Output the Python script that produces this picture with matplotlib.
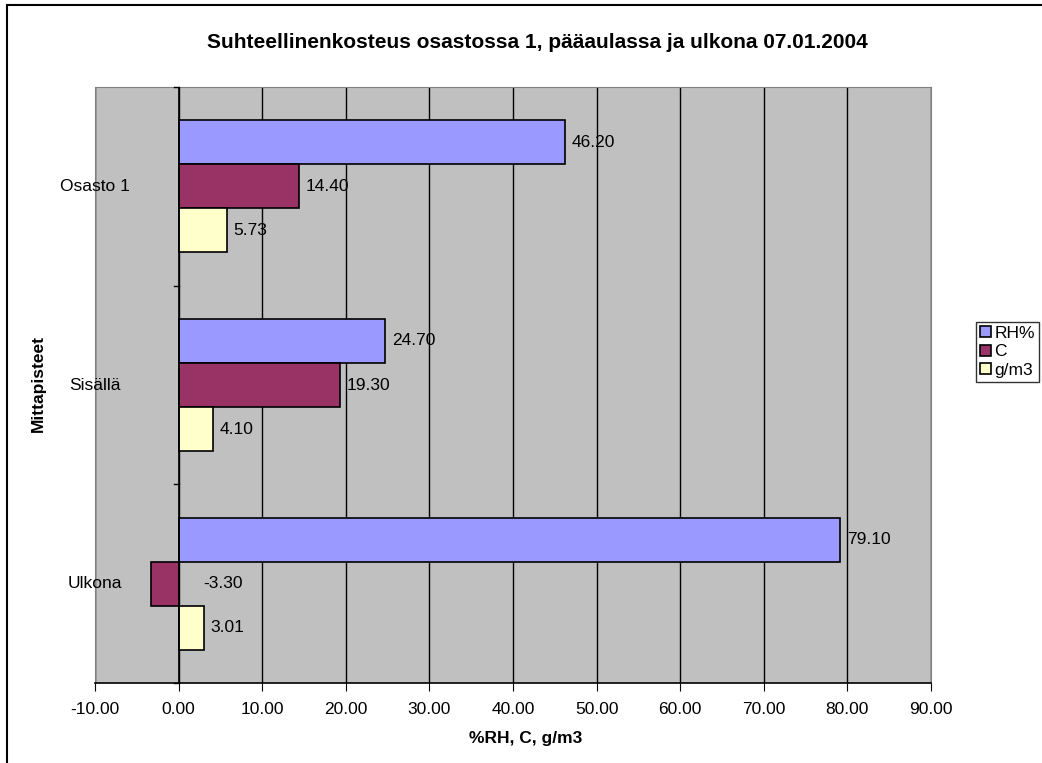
import numpy as np
import matplotlib
matplotlib.use('Agg')
import matplotlib.pyplot as plt
from matplotlib.patches import Rectangle

plt.rcParams['font.family'] = ['Liberation Sans', 'DejaVu Sans']

# data
categories = ['Osasto 1', 'Sisällä', 'Ulkona']
series_names = ['RH%', 'C', 'g/m3']
rh = [46.20, 24.70, 79.10]
temp = [14.40, 19.30, -3.30]
gm3 = [5.73, 4.10, 3.01]
xticks = np.arange(-10, 91, 10)

colors = ['#9999FF', '#993366', '#FFFFCC']
fs = 12.5

fig = plt.figure(figsize=(10.42, 7.63), dpi=100)
W, H = 1042, 763
ax = fig.add_axes([95 / W, 1 - 683 / H, (931 - 95) / W, (683 - 87) / H])
ax.set_facecolor('#C0C0C0')

# outer chart border (only left/top fall inside the picture)
fig.patches.append(Rectangle((7 / W, -0.1), 1.2, 1 - 5 / H + 0.1, transform=fig.transFigure,
                             fill=False, edgecolor='black', linewidth=1.5))

y = np.arange(len(categories))
bh = 0.2215
for i, (vals, c) in enumerate(zip([rh, temp, gm3], colors)):
    pos = y + (i - 1) * bh
    ax.barh(pos, vals, height=bh, color=c, edgecolor='black', linewidth=1.2,
            label=series_names[i], zorder=3)
    for p, v in zip(pos, vals):
        if v >= 0:
            ax.annotate(f'{v:.2f}', (v, p), xytext=(7, 0), textcoords='offset pixels',
                        va='center', ha='left', fontsize=fs, zorder=4)
        else:
            # negative value label sits right of the zero axis
            ax.annotate(f'{v:.2f}', (0, p), xytext=(25, 0), textcoords='offset pixels',
                        va='center', ha='left', fontsize=fs, zorder=4)

ax.set_xlim(-10, 90)
ax.set_ylim(len(categories) - 0.5, -0.5)
ax.set_xticks(xticks)
ax.set_xticklabels([f'{t:.2f}' for t in xticks], fontsize=fs)
ax.grid(axis='x', color='black', linewidth=1, zorder=1)
ax.set_axisbelow(True)

# plot area border gray, value axis black
ax.spines['left'].set_color('#808080')
ax.spines['top'].set_color('#808080')
ax.spines['right'].set_color('#808080')
ax.spines['bottom'].set_color('black')
ax.spines['bottom'].set_linewidth(1.2)
ax.axvline(0, color='black', linewidth=1.2, zorder=5)
ax.set_yticks([])
# category tick marks on the zero axis
for b in np.arange(-0.5, len(categories), 1.0):
    ax.plot([-0.5, 0], [b, b], color='black', linewidth=1, zorder=5, clip_on=False)
for yi, cat in zip(y, categories):
    ax.text(-10, yi, cat, ha='center', va='center', fontsize=fs, zorder=6)

ax.tick_params(axis='x', direction='out', length=6, color='black', pad=8)

fig.text(0.5 * (203 + 871) / W, 1 - 42 / H,
         'Suhteellinenkosteus osastossa 1, pääaulassa ja ulkona 07.01.2004',
         ha='center', va='center', fontsize=15, fontweight='bold')
fig.text((473 + 579) / 2 / W, 1 - 739 / H, '%RH, C, g/m3', ha='center', va='center',
         fontsize=fs, fontweight='bold')
fig.text(38 / W, 1 - 383 / H, 'Mittapisteet', ha='center', va='center', rotation=90,
         fontsize=fs, fontweight='bold')

leg = fig.legend(loc='center left', bbox_to_anchor=(976 / W, 1 - 352 / H), fontsize=fs,
                 frameon=True, fancybox=False, edgecolor='black', handlelength=0.6,
                 handleheight=0.6, handletextpad=0.2, borderpad=0.25, labelspacing=0.2,
                 borderaxespad=0)
leg.get_frame().set_linewidth(1)

fig.savefig('out.png', dpi=100)
